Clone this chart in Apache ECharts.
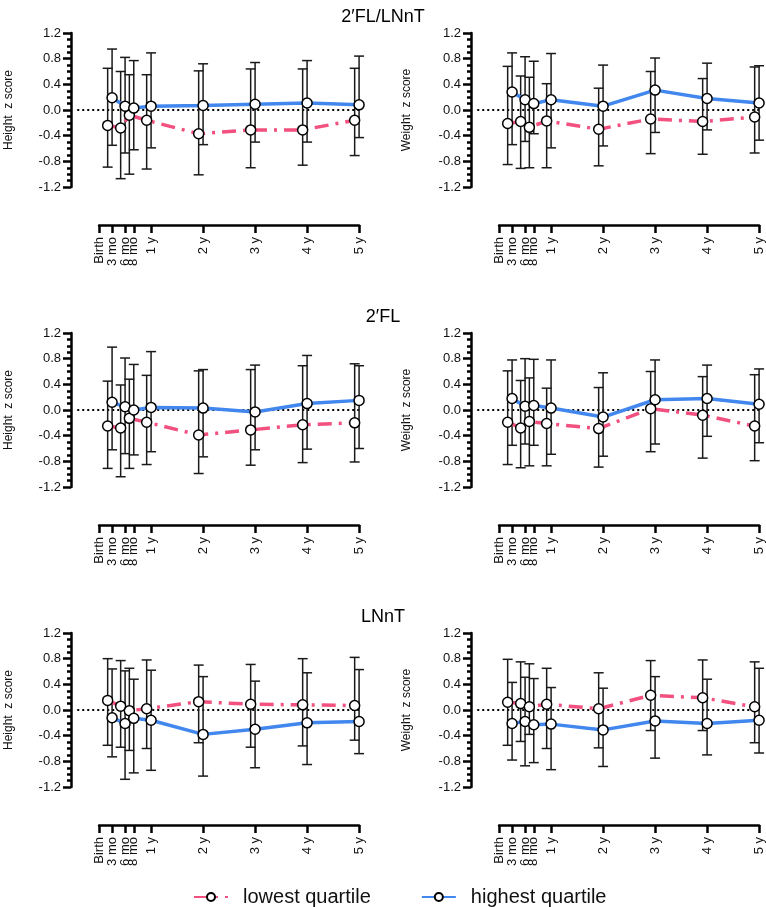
<!DOCTYPE html>
<html lang="en">
<head>
  <meta charset="UTF-8">
  <title>z score by quartile</title>
  <style type="text/css">
    body { margin: 0; background: #fff; }
    #main { width: 766px; height: 907px; }
  </style>
</head>
<body>
  <div id="main"></div>
  <script type="text/javascript" src="https://cdn.jsdelivr.net/npm/echarts@6/dist/echarts.min.js"></script>
  <script type="text/javascript">
    // x axis: time since birth, in years
    var tickLabels = ['Birth', '3 mo', '6 mo', '8 mo', '1 y', '2 y', '3 y', '4 y', '5 y'];
    var tickYears = [0, 0.25, 0.5, 0.667, 1, 2, 3, 4, 5];
    var visitYears = [0.25, 0.5, 0.667, 1, 2, 3, 4, 5];

    var rowTitles = ['2′FL/LNnT', '2′FL', 'LNnT'];
    var yNames = ['Height  z score', 'Weight  z score'];
    var seriesNames = ['lowest quartile', 'highest quartile'];

    // 2'FL/LNnT, height
    var p1LowMean = [-0.24, -0.28, -0.08, -0.16, -0.37, -0.31, -0.31, -0.16];
    var p1LowLo = [-0.89, -1.07, -1.00, -0.92, -1.01, -0.90, -0.86, -0.71];
    var p1LowHi = [0.65, 0.60, 0.55, 0.55, 0.61, 0.64, 0.64, 0.65];
    var p1HighMean = [0.19, 0.06, 0.03, 0.06, 0.07, 0.09, 0.11, 0.08];
    var p1HighLo = [-0.55, -0.67, -0.62, -0.59, -0.54, -0.50, -0.50, -0.43];
    var p1HighHi = [0.95, 0.82, 0.77, 0.89, 0.72, 0.74, 0.77, 0.84];

    // 2'FL/LNnT, weight
    var p2LowMean = [-0.21, -0.18, -0.27, -0.17, -0.30, -0.14, -0.18, -0.11];
    var p2LowLo = [-0.85, -0.91, -0.90, -0.90, -0.87, -0.68, -0.69, -0.67];
    var p2LowHi = [0.68, 0.53, 0.51, 0.41, 0.34, 0.60, 0.49, 0.67];
    var p2HighMean = [0.28, 0.16, 0.10, 0.16, 0.06, 0.31, 0.18, 0.11];
    var p2HighLo = [-0.54, -0.49, -0.37, -0.59, -0.56, -0.35, -0.31, -0.47];
    var p2HighHi = [0.89, 0.83, 0.76, 0.88, 0.70, 0.81, 0.73, 0.69];

    // 2'FL, height
    var p3LowMean = [-0.25, -0.28, -0.13, -0.19, -0.39, -0.31, -0.23, -0.20];
    var p3LowLo = [-0.91, -1.04, -0.91, -0.85, -0.99, -0.86, -0.82, -0.81];
    var p3LowHi = [0.45, 0.39, 0.48, 0.54, 0.61, 0.63, 0.69, 0.72];
    var p3HighMean = [0.12, 0.05, 0.00, 0.04, 0.03, -0.03, 0.10, 0.15];
    var p3HighLo = [-0.62, -0.68, -0.70, -0.65, -0.73, -0.62, -0.61, -0.60];
    var p3HighHi = [0.98, 0.81, 0.71, 0.91, 0.63, 0.70, 0.85, 0.69];

    // 2'FL, weight
    var p4LowMean = [-0.19, -0.28, -0.18, -0.21, -0.29, 0.02, -0.08, -0.25];
    var p4LowLo = [-0.85, -0.90, -0.87, -0.87, -0.89, -0.65, -0.75, -0.79];
    var p4LowHi = [0.61, 0.46, 0.50, 0.34, 0.35, 0.60, 0.52, 0.55];
    var p4HighMean = [0.18, 0.06, 0.07, 0.03, -0.11, 0.16, 0.18, 0.09];
    var p4HighLo = [-0.55, -0.53, -0.55, -0.69, -0.72, -0.53, -0.41, -0.51];
    var p4HighHi = [0.78, 0.80, 0.79, 0.78, 0.58, 0.78, 0.70, 0.64];

    // LNnT, height
    var p5LowMean = [0.15, 0.06, -0.01, 0.02, 0.13, 0.09, 0.08, 0.07];
    var p5LowLo = [-0.55, -0.58, -0.63, -0.60, -0.51, -0.58, -0.56, -0.47];
    var p5LowHi = [0.80, 0.77, 0.65, 0.78, 0.70, 0.71, 0.80, 0.82];
    var p5HighMean = [-0.12, -0.21, -0.13, -0.16, -0.38, -0.30, -0.20, -0.18];
    var p5HighLo = [-0.73, -1.08, -0.98, -0.94, -1.03, -0.90, -0.85, -0.68];
    var p5HighHi = [0.64, 0.61, 0.48, 0.62, 0.52, 0.45, 0.58, 0.63];

    // LNnT, weight
    var p6LowMean = [0.12, 0.10, 0.05, 0.09, 0.02, 0.23, 0.19, 0.05];
    var p6LowLo = [-0.55, -0.49, -0.38, -0.60, -0.59, -0.32, -0.32, -0.51];
    var p6LowHi = [0.79, 0.75, 0.72, 0.65, 0.58, 0.77, 0.78, 0.75];
    var p6HighMean = [-0.21, -0.18, -0.23, -0.22, -0.31, -0.17, -0.21, -0.16];
    var p6HighLo = [-0.78, -0.87, -0.82, -0.93, -0.88, -0.75, -0.70, -0.67];
    var p6HighHi = [0.43, 0.51, 0.49, 0.35, 0.34, 0.52, 0.48, 0.65];

    var panels = [
      [[p1LowMean, p1LowLo, p1LowHi], [p1HighMean, p1HighLo, p1HighHi]],
      [[p2LowMean, p2LowLo, p2LowHi], [p2HighMean, p2HighLo, p2HighHi]],
      [[p3LowMean, p3LowLo, p3LowHi], [p3HighMean, p3HighLo, p3HighHi]],
      [[p4LowMean, p4LowLo, p4LowHi], [p4HighMean, p4HighLo, p4HighHi]],
      [[p5LowMean, p5LowLo, p5LowHi], [p5HighMean, p5HighLo, p5HighHi]],
      [[p6LowMean, p6LowLo, p6LowHi], [p6HighMean, p6HighLo, p6HighHi]]
    ];

    // layout / style
    var font = 'Liberation Sans, Arial, sans-serif';
    var colors = ['#F2507E', '#4287EE'];
    var dodge = [-0.085, 0];          // lowest quartile drawn slightly left
    var pxPerYear = 52;
    var xMin = -0.54, xMax = 5.15;
    var axisX = [71, 471];
    var rowOffset = [0, 300, 600];
    var plotTop = 33, plotHeight = 154, tickAxisY = 225;
    var ink = '#111';

    function renderErrorBar(params, api) {
      var x = api.value(0);
      var top = api.coord([x, api.value(2)]);
      var bot = api.coord([x, api.value(1)]);
      var cap = 5;
      var style = { stroke: '#1a1a1a', lineWidth: 1.5 };
      return {
        type: 'group',
        children: [
          { type: 'line', shape: { x1: top[0], y1: top[1], x2: bot[0], y2: bot[1] }, style: style },
          { type: 'line', shape: { x1: top[0] - cap, y1: top[1], x2: top[0] + cap, y2: top[1] }, style: style },
          { type: 'line', shape: { x1: bot[0] - cap, y1: bot[1], x2: bot[0] + cap, y2: bot[1] }, style: style }
        ]
      };
    }

    function tickLabel(v) {
      var best = 0;
      for (var i = 1; i < tickYears.length; i++) {
        if (Math.abs(tickYears[i] - v) < Math.abs(tickYears[best] - v)) best = i;
      }
      return tickLabels[best];
    }

    var grids = [], xAxes = [], yAxes = [], series = [], titles = [];

    rowTitles.forEach(function (t, r) {
      titles.push({
        text: t, left: 'center', top: 3 + rowOffset[r],
        textStyle: { fontSize: 18, fontWeight: 'normal', color: '#000', fontFamily: font }
      });
    });

    panels.forEach(function (panel, i) {
      var r = Math.floor(i / 2), c = i % 2;
      var left = axisX[c], top = plotTop + rowOffset[r];

      // main plotting grid
      grids.push({ left: left, top: top, width: (xMax - xMin) * pxPerYear, height: plotHeight, outerBoundsMode: 'none' });
      xAxes.push({ type: 'value', gridIndex: i, min: xMin, max: xMax, show: false });
      yAxes.push({
        type: 'value', gridIndex: i, min: -1.2, max: 1.2, interval: 0.4,
        name: yNames[c], nameLocation: 'middle', nameGap: c === 0 ? 56 : 58,
        nameTextStyle: { fontSize: 12, color: ink, fontFamily: font },
        axisLine: { show: true, onZero: false, lineStyle: { color: '#000', width: 2.5 } },
        axisTick: { show: true, length: 8, lineStyle: { color: '#000', width: 2.5 } },
        minorTick: { show: true, splitNumber: 4, length: 4, lineStyle: { color: '#000', width: 2.5 } },
        splitLine: { show: false },
        axisLabel: {
          fontSize: 13, color: ink, fontFamily: font, margin: 10,
          formatter: function (v) { return v.toFixed(1); }
        }
      });

      panel.forEach(function (q, k) {
        var mean = q[0], lo = q[1], hi = q[2];
        var errData = [], lineData = [];
        for (var j = 0; j < visitYears.length; j++) {
          var x = visitYears[j] + dodge[k];
          errData.push([x, lo[j], hi[j]]);
          lineData.push([x, mean[j]]);
        }
        series.push({
          type: 'custom', name: 'err', xAxisIndex: i, yAxisIndex: i, z: 2,
          renderItem: renderErrorBar, data: errData, clip: false, silent: true,
          encode: { x: 0, y: [1, 2] }
        });
        var s = {
          type: 'line', name: seriesNames[k], xAxisIndex: i, yAxisIndex: i, z: 3 + k,
          data: lineData, symbol: 'circle', symbolSize: 10, showSymbol: true,
          itemStyle: { color: '#fff', borderColor: '#000', borderWidth: 1.5 },
          lineStyle: {
            color: colors[k], width: 3.5,
            type: k === 0 ? [14, 7, 3, 7] : 'solid'
          },
          emphasis: { disabled: true }
        };
        if (k === 0) {
          s.markLine = {
            silent: true, symbol: 'none', z: 1,
            label: { show: false },
            lineStyle: { color: '#000', width: 2, type: [2, 3] },
            data: [[{ coord: [-0.42, 0] }, { coord: [5, 0] }]]
          };
        }
        series.push(s);
      });
    });

    // separate time axes drawn below each panel
    panels.forEach(function (panel, i) {
      var r = Math.floor(i / 2), c = i % 2;
      var g = grids.length;
      grids.push({
        left: axisX[c] - xMin * pxPerYear, top: tickAxisY + rowOffset[r] - 1,
        width: 5 * pxPerYear, height: 1, outerBoundsMode: 'none'
      });
      yAxes.push({ type: 'value', gridIndex: g, show: false });
      xAxes.push({
        type: 'value', gridIndex: g, min: 0, max: 5, position: 'bottom',
        axisLine: { show: true, onZero: false, lineStyle: { color: '#000', width: 2.5 } },
        axisTick: { show: true, length: 8, customValues: tickYears, lineStyle: { color: '#000', width: 2.5 } },
        splitLine: { show: false },
        axisLabel: {
          customValues: tickYears, rotate: 90, fontSize: 13, color: ink, fontFamily: font, margin: 12,
          formatter: tickLabel
        }
      });
    });

    var myChart = echarts.init(document.getElementById('main'));
    myChart.setOption({
      animation: false,
      backgroundColor: '#fff',
      title: titles,
      legend: {
        data: seriesNames, left: 188, top: 882,
        itemWidth: 34, itemHeight: 10, itemGap: 50,
        textStyle: { fontSize: 20, color: ink, fontFamily: font, padding: [0, 0, 0, 10] }
      },
      grid: grids,
      xAxis: xAxes,
      yAxis: yAxes,
      series: series
    });
  </script>
</body>
</html>
